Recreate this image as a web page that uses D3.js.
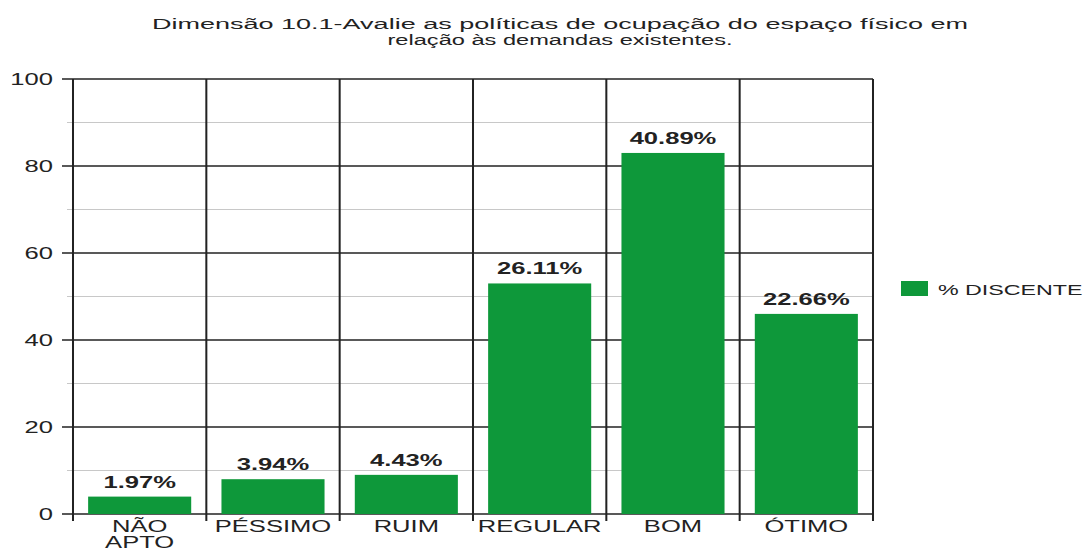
<!DOCTYPE html>
<html><head><meta charset="utf-8">
<script src="https://cdn.jsdelivr.net/npm/d3@7"></script>
<style>html,body{margin:0;padding:0;background:#fff;}svg{display:block;}</style>
</head><body>
<svg id="c" width="1083" height="552"></svg>
<script>
const categories = [["NÃO","APTO"],["PÉSSIMO"],["RUIM"],["REGULAR"],["BOM"],["ÓTIMO"]];
const values = [4, 8, 9, 53, 83, 46];
const labels = ["1.97%","3.94%","4.43%","26.11%","40.89%","22.66%"];
const majorTicks = [0,20,40,60,80,100];
const minorTicks = [10,30,50,70,90];
const titleLines = ["Dimensão 10.1-Avalie as políticas de ocupação do espaço físico em","relação às demandas existentes."];
const titleWidths = [816, 345];
const seriesName = "% DISCENTE";

(function(){
const SX = 1.55;
const px = v => v / SX;
const font = "Arial, 'Liberation Sans', sans-serif";
const green = "#0e983a";
const dark = "#222";

const svg = d3.select("#c");
const g = svg.append("g").attr("transform", `scale(${SX},1)`);

const pLeft = px(73), pRight = px(873), pTop = 79, pBottom = 514;
const keys = categories.map((c,i)=>i);
const x = d3.scaleBand().domain(keys).range([pLeft,pRight]).paddingInner(0.227).paddingOuter(0.1135);
const y = d3.scaleLinear().domain([0,100]).range([pBottom, pTop]);
const step = x.step();

g.append("g").selectAll("line").data(minorTicks).join("line")
  .attr("x1", pLeft - px(6)).attr("x2", pRight)
  .attr("y1", d=>y(d)).attr("y2", d=>y(d))
  .attr("stroke","#c8c8c8").attr("stroke-width",1.2);

g.append("g").selectAll("line").data(majorTicks).join("line")
  .attr("x1", pLeft - px(11)).attr("x2", pRight)
  .attr("y1", d=>y(d)).attr("y2", d=>y(d))
  .attr("stroke",dark).attr("stroke-width",1.3);

const bounds = d3.range(categories.length+1).map(i => pLeft + i*step);
g.append("g").selectAll("line").data(bounds).join("line")
  .attr("x1", d=>d).attr("x2", d=>d)
  .attr("y1", pTop).attr("y2", pBottom + 7)
  .attr("stroke",dark).attr("stroke-width",1.3);

g.append("g").selectAll("text").data(majorTicks).join("text")
  .attr("x", px(53)).attr("y", d=>y(d)).attr("dy","0.36em")
  .attr("text-anchor","end").attr("font-family",font).attr("font-size",16.5)
  .attr("fill","#222").text(d=>d);

g.append("g").selectAll("rect").data(values).join("rect")
  .attr("x",(d,i)=>x(i)).attr("width",x.bandwidth())
  .attr("y",d=>y(d)).attr("height",d=>y(0)-y(d))
  .attr("fill",green);

g.append("g").selectAll("text").data(values).join("text")
  .attr("x",(d,i)=>x(i)+x.bandwidth()/2).attr("y",d=>y(d)-9)
  .attr("text-anchor","middle").attr("font-family",font).attr("font-weight","bold")
  .attr("font-size",16.5).attr("fill","#222").text((d,i)=>labels[i]);

const cl = g.append("g").selectAll("text").data(categories).join("text")
  .attr("text-anchor","middle").attr("font-family",font).attr("font-size",16.5).attr("fill","#222");
cl.each(function(d,i){
  const t = d3.select(this);
  d.forEach((line,j)=>{
    t.append("tspan").attr("x", x(i)+x.bandwidth()/2).attr("y", 532 + j*16.5).text(line);
  });
});

g.append("g").selectAll("text").data(titleLines).join("text")
  .attr("x", px(560)).attr("y",(d,i)=>29 + i*16.5)
  .attr("text-anchor","middle").attr("font-family",font).attr("font-size",15.5)
  .attr("textLength",(d,i)=>px(titleWidths[i])).attr("lengthAdjust","spacingAndGlyphs")
  .attr("fill","#222").text(d=>d);

const lg = g.append("g");
lg.append("rect").attr("x",px(901)).attr("y",281).attr("width",px(27)).attr("height",15).attr("fill",green);
lg.append("text").attr("x",px(938)).attr("y",295).attr("font-family",font).attr("font-size",15)
  .attr("fill","#222").text(seriesName);
})();
</script>
</body></html>
